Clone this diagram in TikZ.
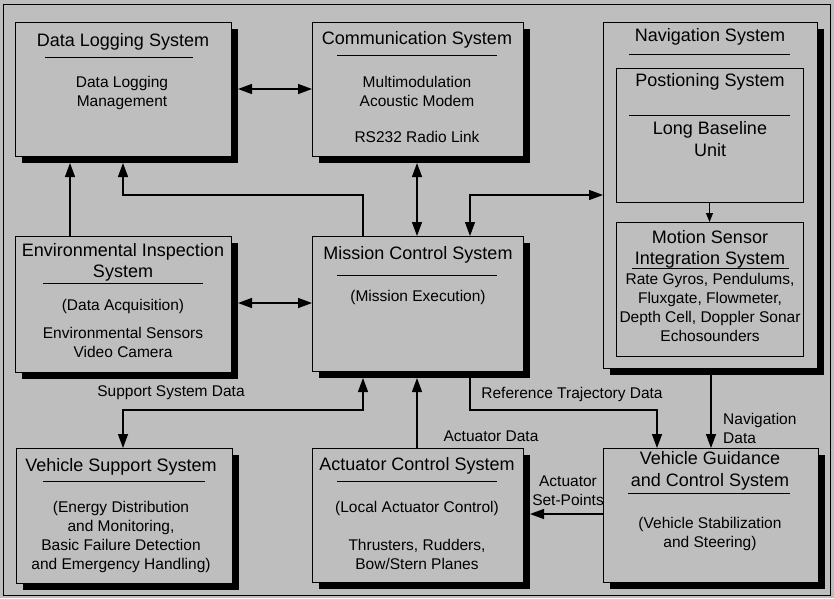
\documentclass[tikz,border=0pt]{standalone}
\usepackage{fontspec}
\setmainfont{Liberation Sans}
\usetikzlibrary{arrows.meta}
\definecolor{bgc}{RGB}{190,190,190}
\newcommand{\ttlfont}{\fontsize{18}{21.5}\selectfont}
\newcommand{\bdyfont}{\fontsize{15.5}{19}\selectfont}
\tikzset{
  shadowbox/.style={fill=black, draw=none, anchor=north west, inner sep=0pt, outer sep=0pt},
  sysbox/.style={fill=bgc, draw=black, line width=0.9pt, anchor=north west, inner sep=0pt, outer sep=0pt},
  innerbox/.style={draw=black, line width=0.9pt, anchor=north west, inner sep=0pt, outer sep=0pt},
  ttl/.style={font=\ttlfont, align=center, inner sep=0pt},
  txt/.style={font=\bdyfont, align=center, inner sep=0pt},
  lbl/.style={font=\bdyfont, inner sep=0pt},
  sepline/.style={line width=0.8pt},
  conn/.style={line width=1.3pt, arrows={-Triangle[length=14pt,width=10pt]}},
  conn2/.style={line width=1.3pt, arrows={Triangle[length=14pt,width=10pt]-Triangle[length=14pt,width=10pt]}},
  smallconn/.style={line width=0.9pt, arrows={-Triangle[length=9pt,width=7pt]}}
}
\begin{document}
\begin{tikzpicture}[x=1pt,y=-1pt]
\useasboundingbox (0,0) rectangle (834,598);
\fill[bgc] (0,0) rectangle (834,598);
\draw[line width=0.8pt] (3,4) rectangle (830,595);

% shadows
\node[shadowbox, minimum width=216pt, minimum height=134pt] (dlS) at (22,29) {};
\node[shadowbox, minimum width=211pt, minimum height=134pt] (commS) at (319,29) {};
\node[shadowbox, minimum width=214pt, minimum height=346pt] (navS) at (610,29) {};
\node[shadowbox, minimum width=216pt, minimum height=136pt] (envS) at (22,243) {};
\node[shadowbox, minimum width=211pt, minimum height=135pt] (mcS) at (319,243) {};
\node[shadowbox, minimum width=216pt, minimum height=135pt] (vsS) at (23,455) {};
\node[shadowbox, minimum width=211pt, minimum height=134pt] (acS) at (319,455) {};
\node[shadowbox, minimum width=215pt, minimum height=134pt] (vgS) at (610,455) {};

% boxes
\node[sysbox, minimum width=216pt, minimum height=134pt] (dl) at (15,22) {};
\node[sysbox, minimum width=211pt, minimum height=134pt] (comm) at (312,22) {};
\node[sysbox, minimum width=214pt, minimum height=346pt] (nav) at (603,22) {};
\node[innerbox, minimum width=187pt, minimum height=134pt] (pos) at (616,68) {};
\node[innerbox, minimum width=187pt, minimum height=134pt] (mot) at (616,222) {};
\node[sysbox, minimum width=216pt, minimum height=136pt] (env) at (15,236) {};
\node[sysbox, minimum width=211pt, minimum height=135pt] (mc) at (312,236) {};
\node[sysbox, minimum width=216pt, minimum height=135pt] (vs) at (16,448) {};
\node[sysbox, minimum width=211pt, minimum height=134pt] (ac) at (312,448) {};
\node[sysbox, minimum width=215pt, minimum height=134pt] (vg) at (603,448) {};

% texts
\node[ttl] (dlT) at (123,42) {Data Logging System};
\draw[sepline] (45,57) -- (193,57);
\node[txt] (dlB) at (122,93) {Data Logging\\Management};

\node[ttl] (commT) at (417,40) {Communication System};
\draw[sepline] (337,55) -- (497,55);
\node[txt] (commB1) at (417,91) {Multimodulation\\Acoustic Modem};
\node[txt] (commB2) at (417,137) {RS232 Radio Link};

\node[ttl] (navT) at (710,37) {Navigation System};
\draw[sepline] (629,54) -- (790,54);
\node[ttl] (posT) at (710,82) {Postioning System};
\draw[sepline] (629,115) -- (790,115);
\node[ttl, font=\fontsize{18}{22}\selectfont] (posB) at (710,139) {Long Baseline\\Unit};
\node[ttl] (motT) at (710,249.5) {Motion Sensor\\Integration System};
\draw[sepline] (632,268) -- (789,268);
\node[txt] (motB) at (710,307.5) {Rate Gyros, Pendulums,\\Fluxgate, Flowmeter,\\Depth Cell, Doppler Sonar\\Echosounders};

\node[ttl] (envT) at (123,262.5) {Environmental Inspection\\System};
\draw[sepline] (43,283) -- (203,283);
\node[txt] (envB1) at (123,306) {(Data Acquisition)};
\node[txt] (envB2) at (123,342.5) {Environmental Sensors\\Video Camera};

\node[ttl] (mcT) at (418,255) {Mission Control System};
\draw[sepline] (337,275) -- (497,275);
\node[txt] (mcB) at (418,297) {(Mission Execution)};

\node[ttl] (vsT) at (121,467) {Vehicle Support System};
\draw[sepline] (43,481) -- (205,481);
\node[txt] (vsB) at (121,536.5) {(Energy Distribution\\and Monitoring,\\Basic Failure Detection\\and Emergency Handling)};

\node[ttl] (acT) at (417,466) {Actuator Control System};
\draw[sepline] (337,481) -- (497,481);
\node[txt] (acB1) at (417,508) {(Local Actuator Control)};
\node[txt] (acB2) at (417,554) {Thrusters, Rudders,\\Bow/Stern Planes};

\node[ttl] (vgT) at (710,471) {Vehicle Guidance\\and Control System};
\draw[sepline] (628,493) -- (790,493);
\node[txt] (vgB) at (710,534) {(Vehicle Stabilization\\and Steering)};

% connector labels
\node[lbl] (lSup) at (171,393) {Support System Data};
\node[lbl] (lRef) at (572,394) {Reference Trajectory Data};
\node[lbl] (lAct) at (491,436) {Actuator Data};
\node[lbl, anchor=west, align=left] (lNav) at (723,428) {Navigation\\Data};
\node[lbl, align=center] (lSet) at (568,490.5) {Actuator\\Set-Points};

% connectors
\draw[conn2] (dlS.east |- 0,89) -- (comm.west |- 0,89);
\draw[conn] (env.north -| 70,0) -- (dlS.south -| 70,0);
\draw[conn] (mc.north -| 363,0) -- ++(0,-41) -| (dlS.south -| 123,0);
\draw[conn2] (commS.south -| 417,0) -- (mc.north -| 417,0);
\draw[conn2] (mc.north -| 470,0) -- ++(0,-41) -- (nav.west |- 0,195);
\draw[conn2] (envS.east |- 0,303) -- (mc.west |- 0,303);
\draw[conn2] (mcS.south -| 363,0) -- ++(0,32) -| (vs.north -| 123,0);
\draw[conn] (ac.north -| 417,0) -- (mcS.south -| 417,0);
\draw[conn] (mcS.south -| 470,0) -- ++(0,32) -| (vg.north -| 657,0);
\draw[conn] (navS.south -| 711,0) -- (vg.north -| 711,0);
\draw[conn] (vg.west |- 0,514) -- (acS.east |- 0,514);
\draw[smallconn] (pos.south) -- (mot.north);
\end{tikzpicture}
\end{document}
